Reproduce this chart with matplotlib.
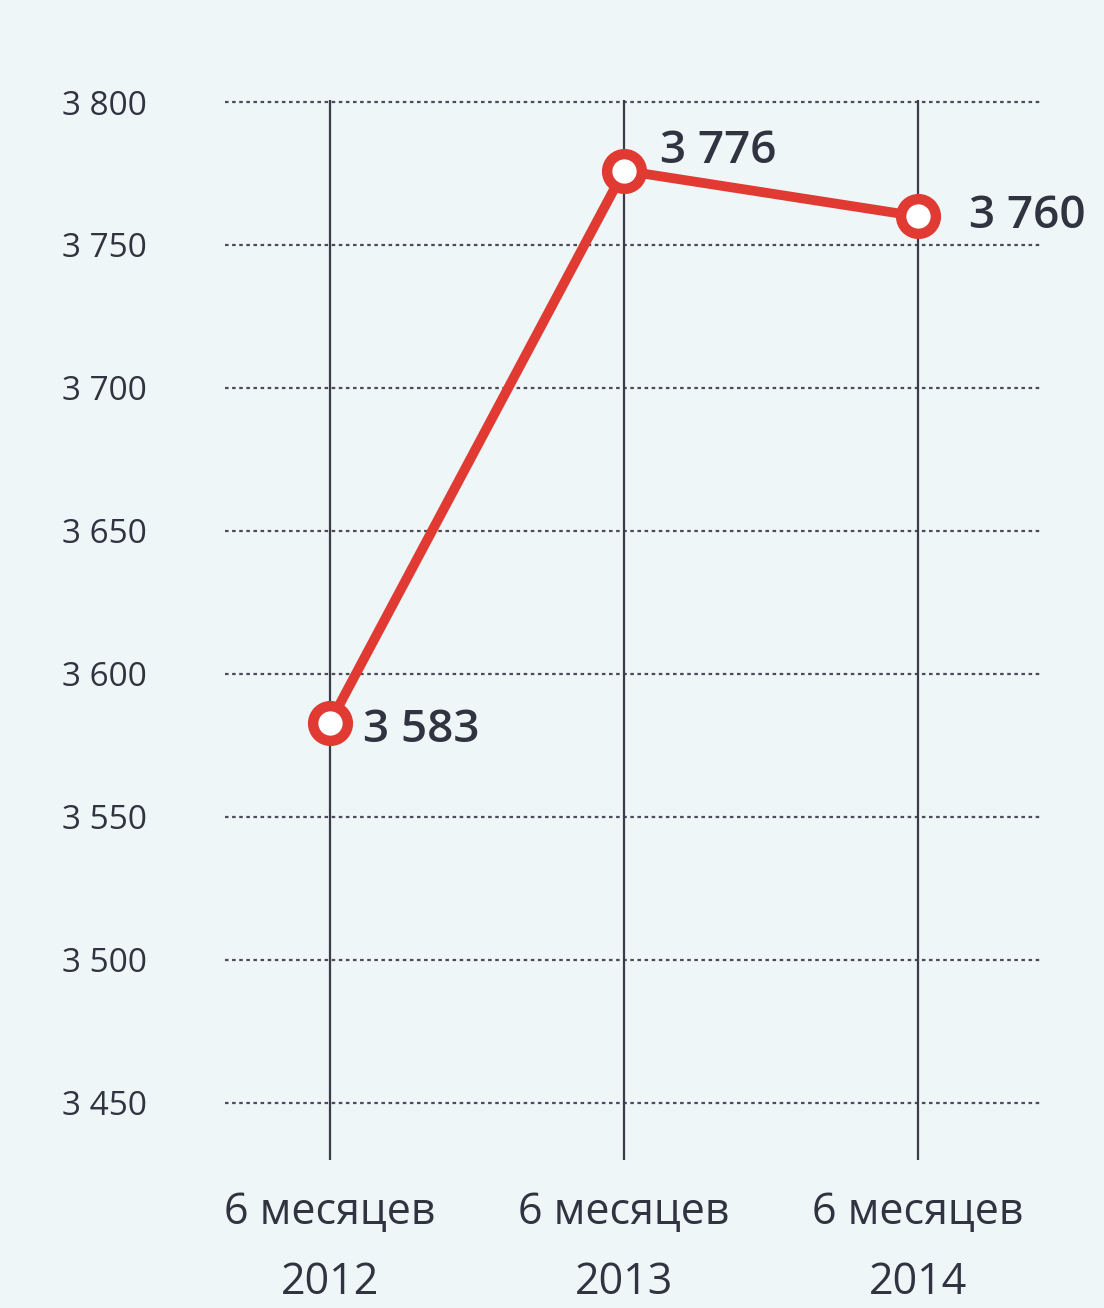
import matplotlib
matplotlib.use("Agg")
import matplotlib.pyplot as plt

categories = ["6 месяцев\n2012", "6 месяцев\n2013", "6 месяцев\n2014"]
values = [3583, 3776, 3760]
value_labels = ["3 583", "3 776", "3 760"]
yticks = [3450, 3500, 3550, 3600, 3650, 3700, 3750, 3800]
ytick_labels = ["3 450", "3 500", "3 550", "3 600", "3 650", "3 700", "3 750", "3 800"]

bg = "#eef6f7"
red = "#e03a33"
dark = "#2f3440"

fig = plt.figure(figsize=(11.04, 13.08), dpi=100, facecolor=bg)
ax = fig.add_axes([225/1104, 1 - 1160/1308, (1040-225)/1104, (1160-100)/1308])
ax.set_facecolor(bg)

x = list(range(len(categories)))
ax.set_xlim(-0.357, 2.415)
ax.set_ylim(3430.0, 3800.7)

for yv in yticks:
    ax.axhline(yv, color="#4a4d58", lw=1.6, ls=(0, (1.6, 1.6)), zorder=1)
for xv in x:
    ax.axvline(xv, color="#3a3c4a", lw=1.6, zorder=2)

ax.plot(x, values, color=red, lw=7, zorder=3, solid_capstyle="round")
ax.plot(x, values, ls="none", marker="o", ms=25, mew=7.5, mec=red, mfc="white", zorder=4)

offsets = [(24, -6), (26, 14), (37, 0)]
for xi, v, lab, off in zip(x, values, value_labels, offsets):
    ax.annotate(lab, (xi, v), xytext=off, textcoords="offset points",
                ha="left", va="center", fontsize=33, fontweight="semibold", color=dark,
                family=["Open Sans", "DejaVu Sans"], zorder=5)

for s in ax.spines.values():
    s.set_visible(False)
ax.set_yticks(yticks)
ax.set_yticklabels(ytick_labels, family=["Open Sans", "DejaVu Sans"], fontsize=24, color=dark)
ax.set_xticks(x)
ax.set_xticklabels(categories, family=["Open Sans", "DejaVu Sans"],
                   fontsize=31, color=dark, linespacing=1.75)
ax.tick_params(axis="y", length=0, pad=56)
ax.tick_params(axis="x", length=0, pad=22)

fig.savefig("out.png", dpi=100, facecolor=bg)
